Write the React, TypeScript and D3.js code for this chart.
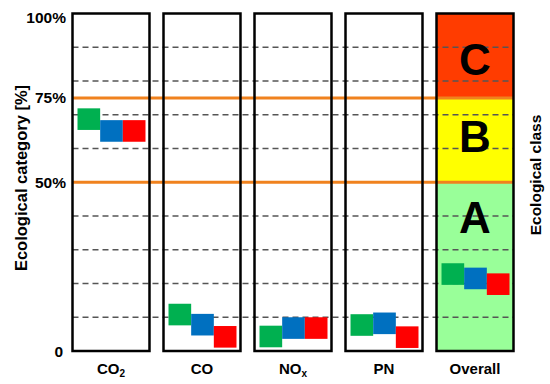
import React from 'react';
import * as d3 from 'd3';

// panels
const categories = ['CO2', 'CO', 'NOx', 'PN', 'Overall'];
const labelMain = ['CO', 'CO', 'NO', 'PN', 'Overall'];
const labelSub = ['2', '', 'x', '', ''];

// three scenarios per panel (green, blue, red), value in %
const seriesNames = ['green', 'blue', 'red'];
const greenValues = [68.7, 10.8, 4.3, 7.7, 22.8];
const blueValues = [65.2, 7.8, 6.8, 8.2, 21.5];
const redValues = [65.2, 4.2, 6.8, 4.1, 19.8];

// axis + guides
const tickValues = [0, 50, 75, 100];
const tickLabels = ['0', '50%', '75%', '100%'];
const gridValues = [10, 20, 30, 40, 60, 70, 80, 90];
const thresholdValues = [50, 75];

// ecological classes of the overall panel
const classLabels = ['A', 'B', 'C'];
const classBounds = [0, 50, 75, 100];
const classLabelAt = [39.5, 63.5, 86.5];

const width = 550;
const height = 384;
const seriesColors = { green: '#00b050', blue: '#0070c0', red: '#ff0000' };
const classColors = ['#99ff99', '#ffff00', '#ff3c00'];
const font = '"Liberation Sans", Arial, sans-serif';

export default function App() {
  const x = d3.scaleBand().domain(categories).range([72.5, 513.5]).paddingInner(0.154).paddingOuter(0);
  const y = d3.scaleLinear().domain([0, 100]).range([351, 13.5]);
  const bw = x.bandwidth();
  const sx = d3.scaleBand().domain(seriesNames).range([5, bw - 4]).padding(0);
  const half = 3.2; // half square height in %

  const valuesBySeries = { green: greenValues, blue: blueValues, red: redValues };
  const overall = categories[categories.length - 1];
  const left = x(categories[0])!;
  const right = x(overall)! + bw;

  return (
    <svg width={width} height={height} style={{ position: 'absolute', left: 0, top: 0, fontFamily: font }}>
      <rect width={width} height={height} fill="#fff" />

      {/* class bands behind overall panel */}
      {classLabels.map((c, i) => (
        <rect key={c} x={x(overall)} width={bw} y={y(classBounds[i + 1])}
          height={y(classBounds[i]) - y(classBounds[i + 1])} fill={classColors[i]} />
      ))}

      {/* dashed grid */}
      {gridValues.map(v => (
        <line key={v} x1={left} x2={right} y1={y(v)} y2={y(v)}
          stroke="#555" strokeWidth={1.3} strokeDasharray="6,4" />
      ))}

      {/* thresholds */}
      {thresholdValues.map(v => (
        <line key={v} x1={left} x2={right} y1={y(v)} y2={y(v)} stroke="#f0821e" strokeWidth={3} />
      ))}

      {/* class letters */}
      {classLabels.map((c, i) => (
        <text key={c} x={x(overall)! + bw / 2} y={y(classLabelAt[i])}
          textAnchor="middle" dominantBaseline="central" fontSize={44} fontWeight="bold" fill="#000">{c}</text>
      ))}

      {/* squares */}
      {categories.map((cat, ci) => (
        <g key={cat}>
          {seriesNames.map(s => {
            const v = valuesBySeries[s][ci];
            return (
              <rect key={s} x={x(cat)! + sx(s)!} width={sx.bandwidth()} y={y(v + half)}
                height={y(v - half) - y(v + half)} fill={seriesColors[s]} />
            );
          })}
        </g>
      ))}

      {/* panel frames */}
      {categories.map(cat => (
        <rect key={cat} x={x(cat)} y={y(100)} width={bw} height={y(0) - y(100)}
          fill="none" stroke="#000" strokeWidth={2.5} />
      ))}

      {/* category labels */}
      {categories.map((cat, i) => (
        <text key={cat} x={x(cat)! + bw / 2} y={374} textAnchor="middle" fontSize={15} fontWeight="bold">
          {labelMain[i]}
          {labelSub[i] && <tspan fontSize={10} dy={3}>{labelSub[i]}</tspan>}
        </text>
      ))}

      {/* y ticks */}
      {tickValues.map((v, i) => (
        <text key={v} x={v === 0 ? 63 : 66} y={Math.max(y(v), 17.5)} textAnchor="end" dominantBaseline="central"
          fontSize={15.5} fontWeight="bold">{tickLabels[i]}</text>
      ))}

      <text transform={`translate(21,${178}) rotate(-90)`} textAnchor="middle" dominantBaseline="central"
        fontSize={16.5} fontWeight="bold">Ecological category [%]</text>
      <text transform={`translate(535,${175}) rotate(-90)`} textAnchor="middle" dominantBaseline="central"
        fontSize={15.5} fontWeight="bold">Ecological class</text>
    </svg>
  );
}
